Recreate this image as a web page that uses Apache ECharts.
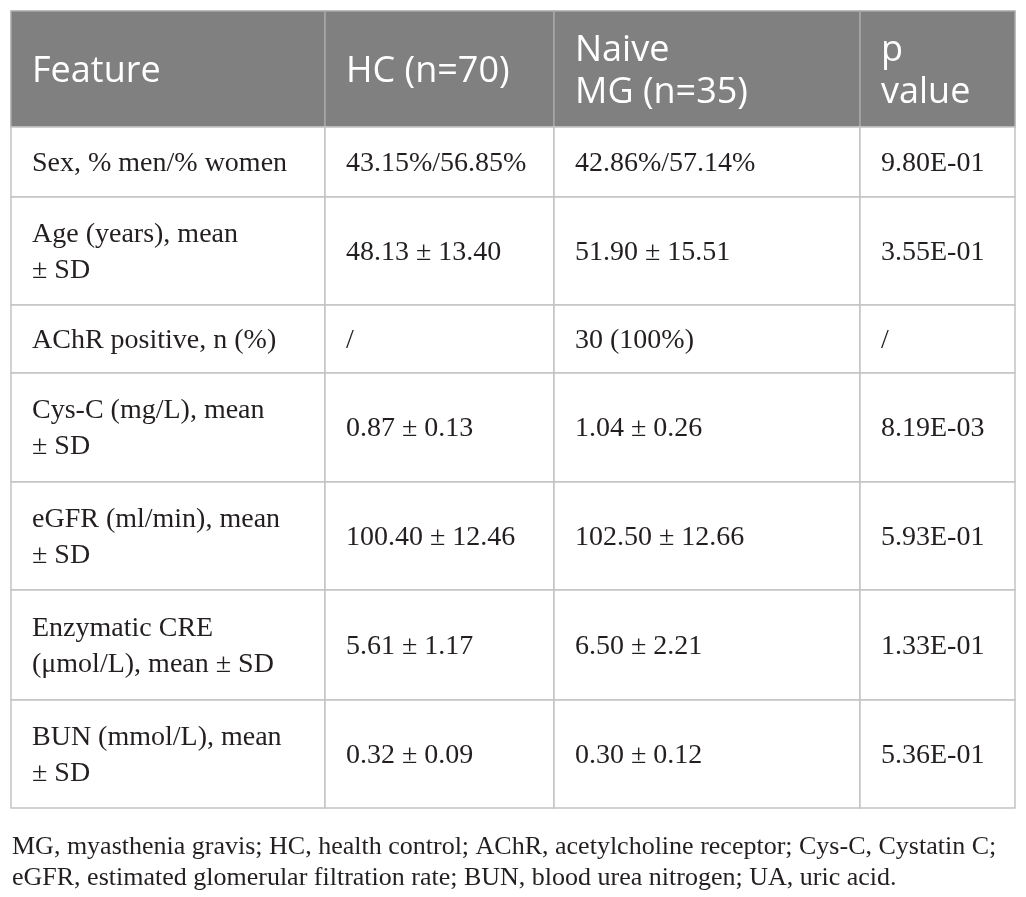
<!DOCTYPE html>
<html>
<head>
<meta charset="utf-8">
<script src="https://cdn.jsdelivr.net/npm/echarts@6/dist/echarts.min.js"></script>
<style>
html, body { margin: 0; padding: 0; background: #ffffff; }
#chart { width: 1026px; height: 897px; }
</style>
</head>
<body>
<div id="chart"></div>
<script>
// ---- table content ----
const headers = ['Feature', 'HC (n=70)', 'Naive\nMG (n=35)', 'p\nvalue'];
const features = [
  'Sex, % men/% women',
  'Age (years), mean\n± SD',
  'AChR positive, n (%)',
  'Cys-C (mg/L), mean\n± SD',
  'eGFR (ml/min), mean\n± SD',
  'Enzymatic CRE\n(μmol/L), mean ± SD',
  'BUN (mmol/L), mean\n± SD'
];
const hcValues = ['43.15%/56.85%', '48.13 ± 13.40', '/', '0.87 ± 0.13', '100.40 ± 12.46', '5.61 ± 1.17', '0.32 ± 0.09'];
const mgValues = ['42.86%/57.14%', '51.90 ± 15.51', '30 (100%)', '1.04 ± 0.26', '102.50 ± 12.66', '6.50 ± 2.21', '0.30 ± 0.12'];
const pValues = ['9.80E-01', '3.55E-01', '/', '8.19E-03', '5.93E-01', '1.33E-01', '5.36E-01'];
const footnote = 'MG, myasthenia gravis; HC, health control; AChR, acetylcholine receptor; Cys-C, Cystatin C;\neGFR, estimated glomerular filtration rate; BUN, blood urea nitrogen; UA, uric acid.';

// ---- layout (kept apart from data) ----
const layout = {
  colEdges: [11, 325, 554, 860, 1015],
  rowEdges: [11, 127, 197, 305, 373, 482, 590, 700, 808],
  padX: 21,
  headerShiftY: 3,
  bodyShiftY: 1.5
};

// build cell list from data arrays
const columns = [features, hcValues, mgValues, pValues];
const cells = [];
headers.forEach(function (h, c) { cells.push({ c: c, r: 0, text: h, header: true }); });
for (let r = 0; r < features.length; r++) {
  for (let c = 0; c < columns.length; c++) {
    cells.push({ c: c, r: r + 1, text: columns[c][r], header: false });
  }
}

const chart = echarts.init(document.getElementById('chart'), null, { renderer: 'canvas' });
chart.setOption({
  backgroundColor: '#ffffff',
  animation: false,
  title: {
    text: footnote,
    left: 12,
    top: 832,
    padding: 0,
    textStyle: {
      fontFamily: 'Liberation Serif',
      fontSize: 26,
      fontWeight: 'normal',
      lineHeight: 31,
      color: '#231f20'
    }
  },
  grid: { left: 0, right: 0, top: 0, bottom: 0 },
  xAxis: { type: 'value', min: 0, max: 1026, show: false },
  yAxis: { type: 'value', min: 0, max: 897, inverse: true, show: false },
  series: [{
    type: 'custom',
    coordinateSystem: 'cartesian2d',
    data: cells.map(function (d) { return [d.c, d.r]; }),
    renderItem: function (params, api) {
      const cell = cells[params.dataIndex];
      const c = api.value(0), r = api.value(1);
      const p0 = api.coord([layout.colEdges[c], layout.rowEdges[r]]);
      const p1 = api.coord([layout.colEdges[c + 1], layout.rowEdges[r + 1]]);
      const shift = cell.header ? layout.headerShiftY : layout.bodyShiftY;
      return {
        type: 'group',
        children: [
          {
            type: 'rect',
            shape: { x: p0[0], y: p0[1], width: p1[0] - p0[0], height: p1[1] - p0[1] },
            style: {
              fill: cell.header ? '#808080' : '#ffffff',
              stroke: cell.header ? '#a8a8a8' : '#c4c4c4',
              lineWidth: 1.5
            }
          },
          {
            type: 'text',
            style: {
              text: cell.text,
              x: p0[0] + layout.padX,
              y: (p0[1] + p1[1]) / 2 + shift,
              align: 'left',
              verticalAlign: 'middle',
              fill: cell.header ? '#ffffff' : '#231f20',
              fontFamily: cell.header ? 'Open Sans' : 'Liberation Serif',
              fontSize: cell.header ? 36 : 28,
              lineHeight: cell.header ? 42 : 36
            }
          }
        ]
      };
    }
  }]
});
</script>
</body>
</html>
